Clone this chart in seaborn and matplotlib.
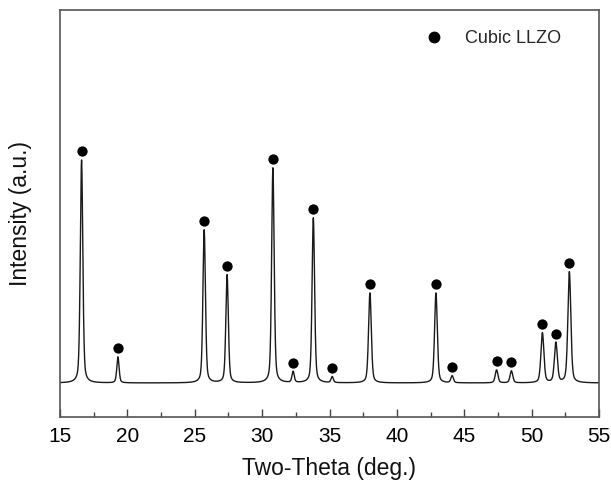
import numpy as np
import pandas as pd
import matplotlib
matplotlib.use("Agg")
import matplotlib.pyplot as plt
import seaborn as sns

# Peak positions (2-theta, deg) and peak intensities (a.u.)
peak_pos = [16.6, 19.3, 25.7, 27.4, 30.8, 32.3, 33.8, 35.2, 38.0, 42.9, 44.1, 47.4, 48.5, 50.8, 51.8, 52.8]
peak_int = [2230, 260, 1530, 1080, 2150, 110, 1650, 60, 900, 900, 70, 130, 120, 500, 400, 1110]
peak_fwhm = [0.22, 0.2, 0.22, 0.22, 0.22, 0.2, 0.22, 0.2, 0.24, 0.24, 0.22, 0.24, 0.24, 0.26, 0.26, 0.26]
xticks = [15, 20, 25, 30, 35, 40, 45, 50, 55]
legend_label = "Cubic LLZO"

# spectrum built as a sum of pseudo-Voigt profiles of the read peaks
tt = np.linspace(15, 55, 4001)
inten = np.zeros_like(tt)
for p, h, w in zip(peak_pos, peak_int, peak_fwhm):
    g = np.exp(-4 * np.log(2) * ((tt - p) / w) ** 2)
    l = 1 / (1 + 4 * ((tt - p) / w) ** 2)
    inten += h * (0.6 * g + 0.4 * l)
df = pd.DataFrame({"tt": tt, "I": inten})
marks = pd.DataFrame({"tt": peak_pos, "I": np.array(peak_int) + 90})

sns.set_theme(style="ticks")
plt.rcParams['font.family'] = ['Liberation Sans', 'DejaVu Sans']

fig = plt.figure(figsize=(6.11, 4.84), dpi=100)
ax = fig.add_axes([60/611, 1-417/484, 539/611, 407/484])

sns.lineplot(data=df, x="tt", y="I", ax=ax, color="#1a1a1a", linewidth=1.0)
sns.scatterplot(data=marks, x="tt", y="I", ax=ax, color="black", s=55,
                edgecolor="black", linewidth=0, zorder=5)

ax.set_xlim(15, 55)
ax.set_ylim(-340, 3730)
ax.set_xticks(xticks)
ax.set_xticks(np.arange(17.5, 55, 5), minor=True)
ax.set_yticks([])
ax.tick_params(axis="x", which="major", direction="in", length=6, width=1,
               labelsize=15, pad=7, color="#444444", labelcolor="black")
ax.tick_params(axis="x", which="minor", direction="in", length=3.5, width=1, color="#444444")
for s in ax.spines.values():
    s.set_visible(True)
    s.set_color("#555555")
    s.set_linewidth(1.2)

ax.set_xlabel("Two-Theta (deg.)", fontsize=16.5, labelpad=8, color="#111111")
ax.set_ylabel("Intensity (a.u.)", fontsize=16.5, labelpad=20, color="#111111")

h = plt.Line2D([], [], marker="o", color="black", linestyle="none", markersize=7.5)
ax.legend([h], [legend_label], loc="upper right", bbox_to_anchor=(0.96, 0.99),
          frameon=False, fontsize=13, handlelength=1.0, handletextpad=1.2)

fig.savefig("out.png", dpi=100)
